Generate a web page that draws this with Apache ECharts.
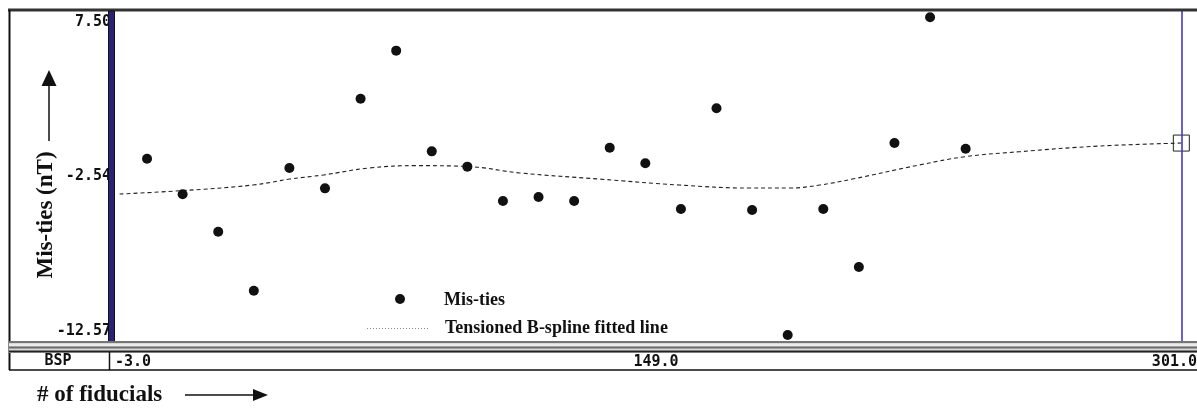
<!DOCTYPE html>
<html>
<head>
<meta charset="utf-8">
<script src="https://cdn.jsdelivr.net/npm/echarts@6/dist/echarts.min.js"></script>
<style>
  html, body { margin: 0; padding: 0; background: #fff; }
  #chart { width: 1197px; height: 408px; }
</style>
</head>
<body>
<div id="chart"></div>
<script>
// Fiducial positions of the mis-tie measurements
const fiducials = [6, 16, 26, 36, 46, 56, 66, 76, 86, 96, 106, 116,
                   126, 136, 146, 156, 166, 176, 186, 196, 206, 216, 226, 236];
// Mis-tie values (nT)
const misTies = [-1.46, -3.61, -5.86, -9.42, -2.02, -3.25, 2.15, 5.05, -1.02, -1.94, -4.01, -3.77,
                 -4.01, -0.80, -1.74, -4.49, 1.58, -4.55, -12.09, -4.49, -7.99, -0.52, 7.06, -0.86];
// Tensioned B-spline fitted line, sampled along the fiducial axis
const splineX = [-1.7, 15.7, 35.7, 46.1, 55.6, 68.5, 81.7, 96.6, 110.7, 133.2, 155.6,
                 175.3, 186.5, 195.0, 204.2, 223.0, 235.9, 251.1, 273.5, 296.6];
const splineY = [-3.59, -3.39, -3.05, -2.69, -2.44, -2.02, -1.88, -1.94, -2.32, -2.69, -3.05,
                 -3.23, -3.23, -3.05, -2.69, -1.84, -1.34, -1.04, -0.70, -0.52];
// Axis ticks
const xTickValues = [-3.0, 149.0, 301.0];
const xTickLabels = ['-3.0', '149.0', '301.0'];
const yTickValues = [-12.57, -2.54, 7.50];
const yTickLabels = ['-12.57', '-2.54', '7.50'];

const monoFont = '"DejaVu Sans Mono", "Liberation Mono", monospace';
const serifFont = '"Liberation Serif", "Times New Roman", serif';

function nearestLabel(values, labels, v) {
  let best = 0;
  for (let i = 1; i < values.length; i++) {
    if (Math.abs(values[i] - v) < Math.abs(values[best] - v)) best = i;
  }
  return labels[best];
}

const pointData = fiducials.map((x, i) => [x, misTies[i]]);
const splineData = splineX.map((x, i) => [x, splineY[i]]);
const lastSpline = splineData[splineData.length - 1];

const chart = echarts.init(document.getElementById('chart'), null, { renderer: 'canvas' });

const option = {
  backgroundColor: '#ffffff',
  animation: false,
  grid: {
    left: 115, right: 0, top: 10, bottom: 65,
    containLabel: false, outerBoundsMode: 'none'
  },
  xAxis: {
    type: 'value',
    min: xTickValues[0], max: xTickValues[2],
    interval: xTickValues[1] - xTickValues[0],
    axisLine: { show: false },
    axisTick: { show: false },
    splitLine: { show: false },
    axisLabel: {
      margin: 12,
      fontFamily: monoFont, fontWeight: 'bold', fontSize: 15, color: '#111',
      alignMinLabel: 'left', alignMaxLabel: 'right',
      formatter: v => nearestLabel(xTickValues, xTickLabels, v)
    }
  },
  yAxis: {
    type: 'value',
    min: yTickValues[0], max: yTickValues[2],
    interval: (yTickValues[2] - yTickValues[0]) / 2,
    axisLine: { show: false },
    axisTick: { show: false },
    splitLine: { show: false },
    axisLabel: {
      margin: 4,
      lineHeight: 24,
      fontFamily: monoFont, fontWeight: 'bold', fontSize: 15, color: '#111',
      verticalAlignMinLabel: 'bottom', verticalAlignMaxLabel: 'top',
      formatter: v => nearestLabel(yTickValues, yTickLabels, v)
    }
  },
  series: [
    {
      name: 'Tensioned B-spline fitted line',
      type: 'line',
      data: splineData,
      smooth: 0.4,
      symbol: 'none',
      lineStyle: { color: '#222', width: 1.1, type: [4, 3] },
      markLine: {
        silent: true,
        symbol: 'none',
        label: { show: false },
        lineStyle: { color: '#4536c8', width: 1.6, type: 'solid', opacity: 1 },
        data: [{ xAxis: lastSpline[0] }]
      },
      z: 3
    },
    {
      name: 'Spline end',
      type: 'scatter',
      data: [lastSpline],
      symbol: 'rect',
      symbolSize: 16,
      itemStyle: { color: 'rgba(255,255,255,0)', borderColor: '#222', borderWidth: 1, opacity: 1 },
      z: 4
    },
    {
      name: 'Mis-ties',
      type: 'scatter',
      data: pointData,
      symbol: 'circle',
      symbolSize: 10,
      itemStyle: { color: '#111', opacity: 1 },
      z: 5
    }
  ],
  graphic: [
    // outer frame: top rule and left rule
    { type: 'rect', shape: { x: 8, y: 8.5, width: 1189, height: 3 }, style: { fill: '#333' }, z: 100 },
    { type: 'line', shape: { x1: 9.5, y1: 10, x2: 9.5, y2: 370 }, style: { stroke: '#111', lineWidth: 2 }, z: 100 },
    // thick blue axis bar
    { type: 'rect', shape: { x: 108.5, y: 11, width: 6, height: 331 }, style: { fill: '#2a2272', stroke: '#111', lineWidth: 1 }, z: 100 },
    // double separator band
    { type: 'rect', shape: { x: 9, y: 341, width: 1188, height: 12 }, style: { fill: '#d8d8d8' }, z: 100 },
    { type: 'line', shape: { x1: 9, y1: 342, x2: 1197, y2: 342 }, style: { stroke: '#555', lineWidth: 1.5 }, z: 101 },
    { type: 'line', shape: { x1: 9, y1: 345, x2: 1197, y2: 345 }, style: { stroke: '#f2f2f2', lineWidth: 1.5 }, z: 101 },
    { type: 'line', shape: { x1: 9, y1: 347.5, x2: 1197, y2: 347.5 }, style: { stroke: '#6a6a6a', lineWidth: 2 }, z: 101 },
    { type: 'line', shape: { x1: 9, y1: 351.5, x2: 1197, y2: 351.5 }, style: { stroke: '#222', lineWidth: 2 }, z: 101 },
    // fiducial row
    { type: 'line', shape: { x1: 9, y1: 370, x2: 1197, y2: 370 }, style: { stroke: '#111', lineWidth: 1.5 }, z: 100 },
    { type: 'line', shape: { x1: 109.5, y1: 352, x2: 109.5, y2: 370 }, style: { stroke: '#111', lineWidth: 1.5 }, z: 100 },
    { type: 'text', x: 58, y: 361, style: { text: 'BSP', font: 'bold 15px ' + monoFont, fill: '#111', align: 'center', verticalAlign: 'middle' }, z: 100 },
    // y-axis title with arrow
    { type: 'text', x: 46, y: 215, rotation: Math.PI / 2,
      style: { text: 'Mis-ties (nT)', font: 'bold 23px ' + serifFont, fill: '#111', align: 'center', verticalAlign: 'middle' }, z: 100 },
    { type: 'line', shape: { x1: 49, y1: 141, x2: 49, y2: 84 }, style: { stroke: '#111', lineWidth: 1.5 }, z: 100 },
    { type: 'polygon', shape: { points: [[49, 70], [41.5, 86], [56.5, 86]] }, style: { fill: '#111' }, z: 100 },
    // x-axis title with arrow
    { type: 'text', x: 37, y: 395, style: { text: '# of fiducials', font: 'bold 23px ' + serifFont, fill: '#111', align: 'left', verticalAlign: 'middle' }, z: 100 },
    { type: 'line', shape: { x1: 185, y1: 395, x2: 256, y2: 395 }, style: { stroke: '#111', lineWidth: 1.5 }, z: 100 },
    { type: 'polygon', shape: { points: [[268, 395], [253, 389], [253, 401]] }, style: { fill: '#111' }, z: 100 },
    // legend
    { type: 'circle', shape: { cx: 400, cy: 299, r: 5 }, style: { fill: '#111' }, z: 100 },
    { type: 'text', x: 444, y: 300, style: { text: 'Mis-ties', font: 'bold 18px ' + serifFont, fill: '#111', align: 'left', verticalAlign: 'middle' }, z: 100 },
    { type: 'line', shape: { x1: 367, y1: 328.5, x2: 428, y2: 328.5 }, style: { stroke: '#888', lineWidth: 1, lineDash: [1, 2] }, z: 100 },
    { type: 'text', x: 445, y: 328, style: { text: 'Tensioned B-spline fitted line', font: 'bold 18px ' + serifFont, fill: '#111', align: 'left', verticalAlign: 'middle' }, z: 100 }
  ]
};

chart.setOption(option);
</script>
</body>
</html>
